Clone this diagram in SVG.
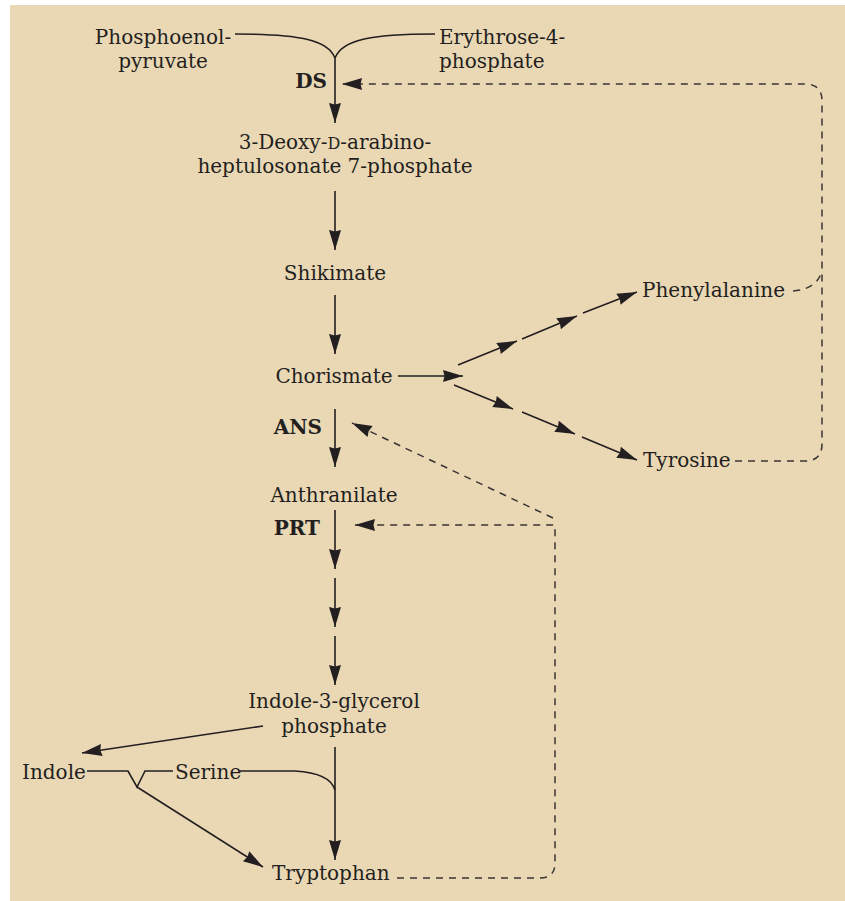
<svg xmlns="http://www.w3.org/2000/svg" width="845" height="901" viewBox="0 0 845 901">
<defs>
<style>
.t{font-family:"DejaVu Serif","Liberation Serif",serif;font-size:20px;fill:#231F20}
.b{font-weight:bold}
.m{text-anchor:middle}
.e{text-anchor:end}
.s{fill:none;stroke:#231F20;stroke-width:1.6}
.d{fill:none;stroke:#3a3535;stroke-width:1.5;stroke-dasharray:7 6}
</style>
<marker id="ah" markerUnits="userSpaceOnUse" markerWidth="21" markerHeight="13" refX="20" refY="6.5" orient="auto" overflow="visible">
<path d="M0,0.5 L20,6.5 L0,12.5 L1.5,6.5 z" fill="#231F20"/>
</marker>
</defs>
<rect x="10" y="5" width="835" height="896" fill="#EAD8B5"/>

<g id="connectors">
<path class="s" d="M235,34 C300,34 328,40 335,58"/>
<path class="s" d="M435,34 C370,34 342,40 335,58"/>
<path class="s" d="M335,58 L335,123" marker-end="url(#ah)"/>
<path class="s" d="M335,191 L335,250" marker-end="url(#ah)"/>
<path class="s" d="M335,295 L335,354" marker-end="url(#ah)"/>
<path class="s" d="M398,376 L463,376" marker-end="url(#ah)"/>
<path class="s" d="M458,365 L517,341" marker-end="url(#ah)"/>
<path class="s" d="M522,339 L577,316" marker-end="url(#ah)"/>
<path class="s" d="M583,313 L637,292" marker-end="url(#ah)"/>
<path class="s" d="M454,385 L513,409" marker-end="url(#ah)"/>
<path class="s" d="M522,412 L575,434" marker-end="url(#ah)"/>
<path class="s" d="M582,437 L637,460" marker-end="url(#ah)"/>
<path class="s" d="M335,409 L335,467" marker-end="url(#ah)"/>
<path class="s" d="M335,510 L335,569" marker-end="url(#ah)"/>
<path class="s" d="M335,578 L335,627" marker-end="url(#ah)"/>
<path class="s" d="M335,636 L335,685" marker-end="url(#ah)"/>
<path class="s" d="M263,726 L82,753" marker-end="url(#ah)"/>
<path class="s" d="M335,747 L335,860" marker-end="url(#ah)"/>
<path class="s" d="M87,771 L128,771 L137,787 L145,771 L173,771"/>
<path class="s" d="M240,771 L295,771 Q330,773 335,790"/>
<path class="s" d="M137,787 L263,867" marker-end="url(#ah)"/>
<path class="d" d="M735,461 L805,461 Q822,461 822,444 L822,101 Q822,84 805,84 L342,84" marker-end="url(#ah)"/>
<path class="d" d="M793,291 Q818,289 822,270"/>
<path class="d" d="M397,878 L540,878 Q555,878 555,863 L555,525 L355,525" marker-end="url(#ah)"/>
<path class="d" d="M553,518 L352,423" marker-end="url(#ah)"/>
</g>

<g id="pep"><text class="t m" x="163" y="44">Phosphoenol-</text><text class="t m" x="163" y="68">pyruvate</text></g>
<g id="e4p"><text class="t" x="439" y="44">Erythrose-4-</text><text class="t" x="439" y="68">phosphate</text></g>
<g id="ds"><text class="t b e" x="327" y="88">DS</text></g>
<g id="dahp"><text class="t m" x="335" y="149">3-Deoxy-<tspan font-size="16">D</tspan>-arabino-</text><text class="t m" x="335" y="173">heptulosonate 7-phosphate</text></g>
<g id="shikimate"><text class="t m" x="335" y="280">Shikimate</text></g>
<g id="chorismate"><text class="t m" x="334" y="383">Chorismate</text></g>
<g id="phenylalanine"><text class="t" x="642" y="297">Phenylalanine</text></g>
<g id="tyrosine"><text class="t" x="643" y="467">Tyrosine</text></g>
<g id="ans"><text class="t b e" x="322" y="434">ANS</text></g>
<g id="anthranilate"><text class="t m" x="334" y="502">Anthranilate</text></g>
<g id="prt"><text class="t b e" x="320" y="535">PRT</text></g>
<g id="igp"><text class="t m" x="334" y="708">Indole-3-glycerol</text><text class="t m" x="334" y="733">phosphate</text></g>
<g id="indole"><text class="t" x="22" y="779">Indole</text></g>
<g id="serine"><text class="t" x="175" y="779">Serine</text></g>
<g id="tryptophan"><text class="t" x="272" y="880">Tryptophan</text></g>
</svg>
